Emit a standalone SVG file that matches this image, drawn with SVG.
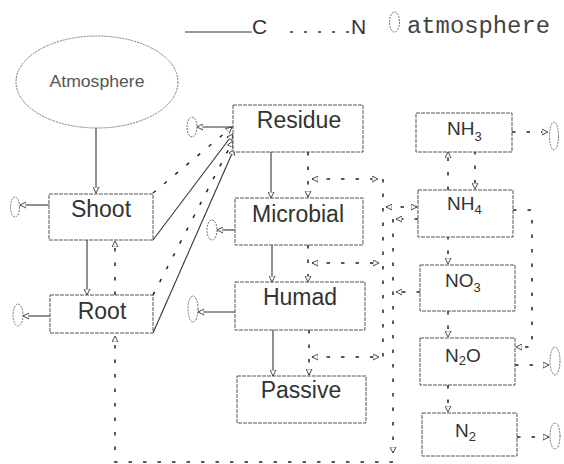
<svg xmlns="http://www.w3.org/2000/svg" width="564" height="464" viewBox="0 0 564 464">
<style>
.box{fill:#fff;stroke:#555;stroke-width:1;stroke-dasharray:4 1}
.lbl{font-family:"Liberation Sans",Arial,sans-serif;font-size:23px;fill:#333;text-anchor:middle}
.chem{font-family:"Liberation Sans",Arial,sans-serif;font-size:19px;fill:#333}
.sub{font-size:13px}
.c{fill:none;stroke:#333;stroke-width:1.1}
.n{fill:none;stroke:#222;stroke-width:1.5;stroke-dasharray:3.5 11}
.atm{fill:#fff;stroke:#777;stroke-width:1;stroke-dasharray:2 1}
.leg{font-family:"Liberation Sans",Arial,sans-serif;font-size:21px;fill:#333}
</style>
<defs>
<marker id="ah" viewBox="0 0 8 8" refX="7" refY="4" markerWidth="7" markerHeight="7" markerUnits="userSpaceOnUse" orient="auto-start-reverse">
<path d="M0,0.5 L7,4 L0,7.5 Z" fill="#fff" stroke="#333" stroke-width="1"/>
</marker>
</defs>

<g id="legend">
<line x1="185" y1="32" x2="252" y2="32" stroke="#333" stroke-width="1"/>
<text class="leg" x="252" y="34">C</text>
<line x1="290" y1="32" x2="352" y2="32" stroke="#333" stroke-width="1.5" stroke-dasharray="3 11"/>
<text class="leg" x="351" y="34">N</text>
<ellipse class="atm" cx="394.5" cy="22" rx="5" ry="10"/>
<text x="407" y="33" font-family="'Liberation Mono','Courier New',monospace" font-size="23" fill="#444" textLength="143" lengthAdjust="spacingAndGlyphs">atmosphere</text>
</g>

<g id="connectors">
<!-- carbon (solid) -->
<line class="c" x1="96" y1="128" x2="96" y2="193" marker-end="url(#ah)"/>
<line class="c" x1="87" y1="240" x2="87" y2="295" marker-end="url(#ah)"/>
<line class="c" x1="153" y1="240" x2="233" y2="134" marker-end="url(#ah)"/>
<line class="c" x1="153" y1="333" x2="234" y2="149" marker-end="url(#ah)"/>
<line class="c" x1="271" y1="152" x2="271" y2="198" marker-end="url(#ah)"/>
<line class="c" x1="272" y1="245" x2="272" y2="282" marker-end="url(#ah)"/>
<line class="c" x1="273" y1="330" x2="273" y2="376" marker-end="url(#ah)"/>
<line class="c" x1="49" y1="205" x2="20" y2="205" marker-end="url(#ah)"/>
<line class="c" x1="50" y1="316" x2="23" y2="316" marker-end="url(#ah)"/>
<line class="c" x1="233" y1="127" x2="197" y2="127" marker-end="url(#ah)"/>
<line class="c" x1="235" y1="230" x2="217" y2="230" marker-end="url(#ah)"/>
<line class="c" x1="235" y1="312" x2="198" y2="312" marker-end="url(#ah)"/>
<!-- nitrogen (dashed) -->
<line class="n" x1="153" y1="193" x2="232" y2="127" marker-end="url(#ah)"/>
<line class="n" x1="153" y1="295" x2="233" y2="141" marker-end="url(#ah)"/>
<line class="n" x1="115" y1="295" x2="115" y2="241" marker-end="url(#ah)"/>
<line class="n" x1="308" y1="152" x2="308" y2="197" marker-end="url(#ah)"/>
<line class="n" x1="308" y1="245" x2="308" y2="282" marker-end="url(#ah)"/>
<line class="n" x1="309" y1="330" x2="309" y2="375" marker-end="url(#ah)"/>
<line class="n" x1="312" y1="179" x2="378" y2="179" marker-start="url(#ah)" marker-end="url(#ah)"/>
<line class="n" x1="312" y1="263" x2="379" y2="263" marker-start="url(#ah)" marker-end="url(#ah)"/>
<line class="n" x1="312" y1="357" x2="379" y2="357" marker-start="url(#ah)" marker-end="url(#ah)"/>
<line class="n" x1="383" y1="179" x2="383" y2="357"/>
<line class="n" x1="386" y1="207" x2="417" y2="207" marker-start="url(#ah)" marker-end="url(#ah)"/>
<line class="n" x1="418" y1="219" x2="396" y2="219" marker-end="url(#ah)"/>
<line class="n" x1="393" y1="219" x2="393" y2="453" marker-end="url(#ah)"/>
<path class="n" d="M393,462 L115,462 L115,336" marker-end="url(#ah)"/>
<line class="n" x1="420" y1="292" x2="396" y2="292" marker-end="url(#ah)"/>
<line class="n" x1="448" y1="190" x2="448" y2="152" marker-end="url(#ah)"/>
<line class="n" x1="475" y1="151" x2="475" y2="189" marker-end="url(#ah)"/>
<line class="n" x1="512" y1="132" x2="548" y2="132" marker-end="url(#ah)"/>
<path class="n" d="M513,210 L532,210 L532,347 L516,347" marker-end="url(#ah)"/>
<line class="n" x1="448" y1="236" x2="448" y2="264" marker-end="url(#ah)"/>
<line class="n" x1="448" y1="311" x2="448" y2="337" marker-end="url(#ah)"/>
<line class="n" x1="448" y1="385" x2="448" y2="412" marker-end="url(#ah)"/>
<line class="n" x1="515" y1="365" x2="549" y2="365" marker-end="url(#ah)"/>
<line class="n" x1="517" y1="437" x2="549" y2="437" marker-end="url(#ah)"/>
</g>

<g id="atmosphere">
<ellipse class="atm" cx="97" cy="82" rx="81" ry="46"/>
<text x="97" y="87" font-family="'Liberation Sans',Arial,sans-serif" font-size="16" fill="#555" text-anchor="middle" textLength="95" lengthAdjust="spacingAndGlyphs">Atmosphere</text>
</g>

<g id="sinks">
<ellipse class="atm" cx="15" cy="207" rx="4.5" ry="10"/>
<ellipse class="atm" cx="18" cy="315" rx="5" ry="11"/>
<ellipse class="atm" cx="192" cy="127" rx="5" ry="10"/>
<ellipse class="atm" cx="212" cy="230" rx="5" ry="10"/>
<ellipse class="atm" cx="193" cy="309" rx="5" ry="13"/>
<ellipse class="atm" cx="554" cy="136" rx="4.5" ry="14"/>
<ellipse class="atm" cx="555" cy="361" rx="5" ry="14"/>
<ellipse class="atm" cx="555" cy="436" rx="5" ry="13"/>
</g>

<g id="shoot"><rect class="box" x="49" y="194" width="104" height="46"/><text class="lbl" x="101" y="217">Shoot</text></g>
<g id="root"><rect class="box" x="50" y="295" width="103" height="38"/><text class="lbl" x="102" y="319">Root</text></g>
<g id="residue"><rect class="box" x="233" y="105" width="130" height="47"/><text class="lbl" x="299" y="128">Residue</text></g>
<g id="microbial"><rect class="box" x="235" y="198" width="128" height="47"/><text class="lbl" x="298" y="222">Microbial</text></g>
<g id="humad"><rect class="box" x="235" y="282" width="130" height="48"/><text class="lbl" x="300" y="305">Humad</text></g>
<g id="passive"><rect class="box" x="237" y="376" width="129" height="47"/><text class="lbl" x="301" y="398">Passive</text></g>

<g id="nh3"><rect class="box" x="416" y="113" width="96" height="39"/><text class="chem" x="447" y="135">NH<tspan class="sub" dy="6">3</tspan></text></g>
<g id="nh4"><rect class="box" x="418" y="190" width="95" height="47"/><text class="chem" x="447" y="210">NH<tspan class="sub" dy="4">4</tspan></text></g>
<g id="no3"><rect class="box" x="420" y="265" width="95" height="46"/><text class="chem" x="445" y="287">NO<tspan class="sub" dy="5">3</tspan></text></g>
<g id="n2o"><rect class="box" x="420" y="338" width="95" height="47"/><text class="chem" x="445" y="362">N<tspan class="sub" dy="3">2</tspan><tspan dy="-3">O</tspan></text></g>
<g id="n2"><rect class="box" x="422" y="413" width="95" height="43"/><text class="chem" x="455" y="437">N<tspan class="sub" dy="4">2</tspan></text></g>
</svg>
